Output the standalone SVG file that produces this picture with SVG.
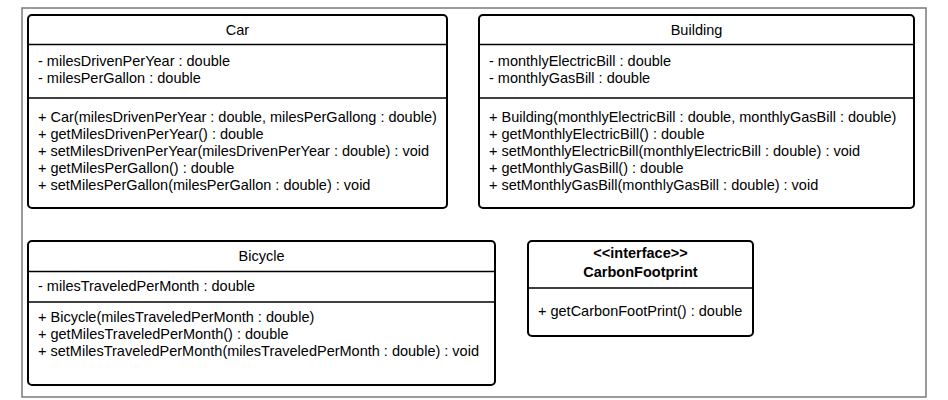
<svg xmlns="http://www.w3.org/2000/svg" width="948" height="400" viewBox="0 0 948 400">
<style>
.frame{fill:#fff;stroke:#7a7a7a;stroke-width:1.5}
.box{fill:#fff;stroke:#000;stroke-width:2}
.sep{stroke:#000;stroke-width:1.5}
text{font-family:"Liberation Sans",Arial,sans-serif;font-size:14.5px;fill:#000}
.c{text-anchor:middle}
.b{font-weight:bold}
</style>
<rect x="0" y="0" width="948" height="400" fill="#fff"/>
<rect class="frame" x="22" y="8" width="904" height="389"/>
<g id="Car">
<rect class="box" x="28" y="15" width="419" height="193" rx="4"/>
<line class="sep" x1="28" y1="44.5" x2="447" y2="44.5"/>
<line class="sep" x1="28" y1="98" x2="447" y2="98"/>
<text class="c" x="237.5" y="35">Car</text>
<text x="38" y="66">- milesDrivenPerYear : double</text>
<text x="38" y="83">- milesPerGallon : double</text>
<text x="38" y="122">+ Car(milesDrivenPerYear : double, milesPerGallong : double)</text>
<text x="38" y="139">+ getMilesDrivenPerYear() : double</text>
<text x="38" y="156">+ setMilesDrivenPerYear(milesDrivenPerYear : double) : void</text>
<text x="38" y="173">+ getMilesPerGallon() : double</text>
<text x="38" y="190">+ setMilesPerGallon(milesPerGallon : double) : void</text>
</g>
<g id="Building">
<rect class="box" x="479" y="15" width="435" height="193" rx="4"/>
<line class="sep" x1="479" y1="44.5" x2="914" y2="44.5"/>
<line class="sep" x1="479" y1="98" x2="914" y2="98"/>
<text class="c" x="696.5" y="35">Building</text>
<text x="489" y="66">- monthlyElectricBill : double</text>
<text x="489" y="83">- monthlyGasBill : double</text>
<text x="489" y="122">+ Building(monthlyElectricBill : double, monthlyGasBill : double)</text>
<text x="489" y="139">+ getMonthlyElectricBill() : double</text>
<text x="489" y="156">+ setMonthlyElectricBill(monthlyElectricBill : double) : void</text>
<text x="489" y="173">+ getMonthlyGasBill() : double</text>
<text x="489" y="190">+ setMonthlyGasBill(monthlyGasBill : double) : void</text>
</g>
<g id="Bicycle">
<rect class="box" x="28" y="241" width="467" height="144" rx="4"/>
<line class="sep" x1="28" y1="271.5" x2="495" y2="271.5"/>
<line class="sep" x1="28" y1="302" x2="495" y2="302"/>
<text class="c" x="261.5" y="261">Bicycle</text>
<text x="38" y="291">- milesTraveledPerMonth : double</text>
<text x="38" y="322">+ Bicycle(milesTraveledPerMonth : double)</text>
<text x="38" y="339">+ getMilesTraveledPerMonth() : double</text>
<text x="38" y="356">+ setMilesTraveledPerMonth(milesTraveledPerMonth : double) : void</text>
</g>
<g id="CarbonFootprint">
<rect class="box" x="528" y="241" width="225" height="95" rx="4"/>
<line class="sep" x1="528" y1="288" x2="753" y2="288"/>
<text class="c b" x="640.5" y="258">&lt;&lt;interface&gt;&gt;</text>
<text class="c b" x="640.5" y="277">CarbonFootprint</text>
<text x="538" y="316">+ getCarbonFootPrint() : double</text>
</g>
<g id="connectors"/>
</svg>
